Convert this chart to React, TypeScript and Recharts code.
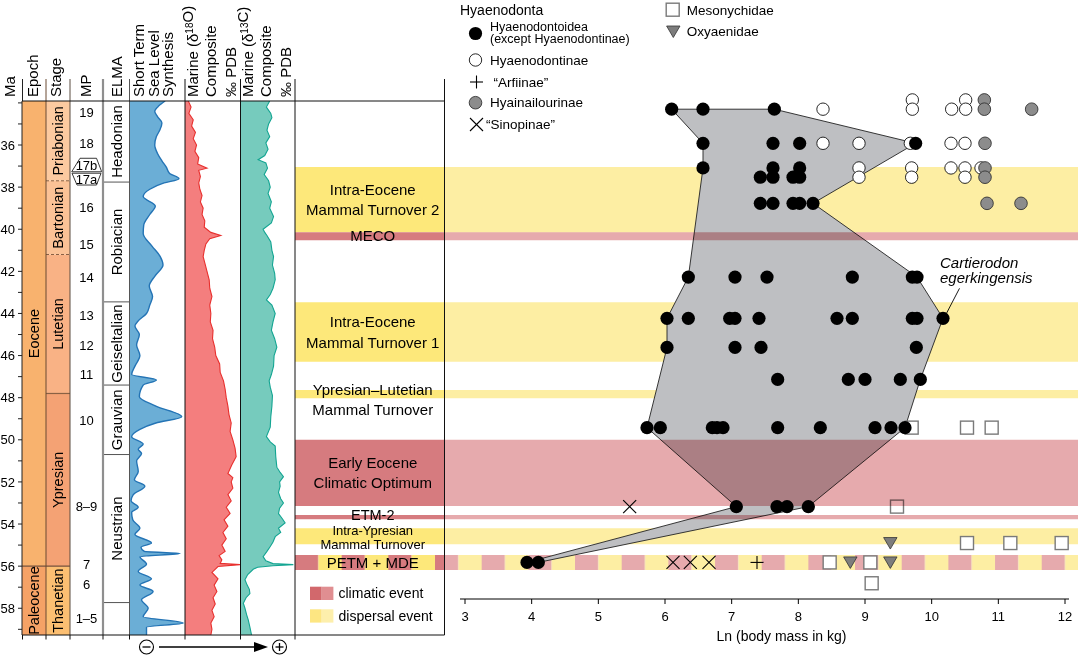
import React from "react";
import {
  Area,
  ComposedChart,
  ReferenceArea,
  ReferenceDot,
  ReferenceLine,
  Scatter,
  XAxis,
  YAxis,
} from "recharts";

const W = 1081;
const H = 661;
const FONT = '"Liberation Sans", Arial, Helvetica, sans-serif';

type Pt = [number, number];

// age windows (Ma, top -> bottom) of the left columns and of the body-mass panel
const COL_AGE: [number, number] = [33.91, 59.27];
const PLOT_AGE: [number, number] = [32.914, 57.557];
const LN_RANGE: [number, number] = [2.7, 12.195];
const LN_TICKS = [3, 4, 5, 6, 7, 8, 9, 10, 11, 12];
const MA_TICKS = [34, 35, 36, 37, 38, 39, 40, 41, 42, 43, 44, 45, 46, 47, 48, 49, 50, 51, 52, 53, 54, 55, 56, 57, 58, 59];

const epochs = [
  { name: "Eocene", top: 33.91, base: 56.0 },
  { name: "Paleocene", top: 56.0, base: 59.27 },
];
const stages = [
  { name: "Priabonian", top: 33.91, base: 37.7 },
  { name: "Bartonian", top: 37.7, base: 41.2 },
  { name: "Lutetian", top: 41.2, base: 47.8 },
  { name: "Ypresian", top: 47.8, base: 56.0 },
  { name: "Thanetian", top: 56.0, base: 59.27 },
];
const elma = [
  { name: "Headonian", top: 33.91, base: 37.76 },
  { name: "Robiacian", top: 37.76, base: 43.45 },
  { name: "Geiseltalian", top: 43.45, base: 47.4 },
  { name: "Grauvian", top: 47.4, base: 50.7 },
  { name: "Neustrian", top: 50.7, base: 57.73 },
];
const mpLevels = [
  { name: "19", ma: 34.47 },
  { name: "18", ma: 35.92 },
  { name: "16", ma: 38.96 },
  { name: "15", ma: 40.7 },
  { name: "14", ma: 42.3 },
  { name: "13", ma: 44.07 },
  { name: "12", ma: 45.5 },
  { name: "11", ma: 46.87 },
  { name: "10", ma: 49.06 },
  { name: "8–9", ma: 53.14 },
  { name: "7", ma: 55.9 },
  { name: "6", ma: 56.89 },
  { name: "1–5", ma: 58.47 },
];
const mpBoxes = [
  { name: "17b", top: 36.63, base: 37.27 },
  { name: "17a", top: 37.34, base: 37.9 },
];

// relative units, 0 = left edge of the column
const seaLevel: Pt[] = [
  [33.91, 64], [34.15, 52], [34.4, 45], [34.65, 50], [34.95, 58], [35.3, 54], [35.6, 48], [36.0, 45],
  [36.4, 50], [36.75, 58], [37.05, 66], [37.35, 72], [37.6, 89], [37.8, 62], [38.1, 36], [38.45, 24],
  [38.9, 46], [39.3, 36], [39.8, 25], [40.2, 24], [40.8, 40], [41.3, 55], [41.7, 60], [42.2, 46],
  [42.7, 35], [43.2, 41], [43.6, 36], [44.0, 30], [44.35, 15], [44.6, 9], [45.0, 17], [45.5, 12],
  [46.0, 18], [46.5, 9], [46.9, 3], [47.16, 48], [47.4, 24], [47.95, 17], [48.4, 47], [48.9, 94],
  [49.2, 47], [49.5, 18], [49.85, 3], [50.2, 24], [50.45, 15], [50.65, 21], [51.0, 12], [51.5, 15],
  [51.9, 8], [52.2, 27], [52.6, 6], [52.9, 2], [53.2, 15], [53.45, 3], [53.8, 5], [54.2, 18],
  [54.5, 9], [54.9, 39], [55.1, 20], [55.3, 26], [55.4, 91], [55.55, 18], [55.9, 30], [56.25, 15],
  [56.6, 39], [56.9, 18], [57.2, 42], [57.6, 21], [58.0, 33], [58.4, 24], [58.7, 97], [58.9, 30],
  [59.27, 30],
];
const d18O: Pt[] = [
  [33.91, 6], [34.2, 11], [34.5, 7], [34.8, 15], [35.1, 12], [35.4, 19], [35.7, 15], [36.0, 21],
  [36.3, 18], [36.6, 25], [36.9, 23], [37.1, 40], [37.2, 25], [37.5, 28], [37.8, 25], [38.1, 27],
  [38.4, 31], [38.7, 28], [39.0, 33], [39.3, 31], [39.6, 36], [39.9, 35], [40.15, 47], [40.3, 65],
  [40.45, 45], [40.7, 38], [41.0, 35], [41.3, 33], [41.6, 36], [42.0, 40], [42.4, 44], [42.8, 45],
  [43.2, 49], [43.6, 45], [44.0, 47], [44.4, 46], [44.8, 51], [45.2, 50], [45.6, 54], [46.0, 56],
  [46.4, 63], [46.8, 64], [47.2, 70], [47.6, 73], [48.0, 75], [48.4, 78], [48.8, 80], [49.2, 84],
  [49.6, 82], [50.0, 87], [50.4, 91], [50.8, 93], [51.2, 85], [51.6, 78], [51.8, 87], [52.0, 84],
  [52.3, 87], [52.6, 78], [52.9, 84], [53.2, 75], [53.5, 82], [53.8, 71], [54.1, 78], [54.4, 69],
  [54.7, 75], [55.0, 67], [55.3, 73], [55.5, 62], [55.7, 67], [55.87, 64], [55.93, 100], [56.02, 60],
  [56.3, 49], [56.6, 60], [56.9, 53], [57.2, 58], [57.5, 51], [57.8, 55], [58.1, 49], [58.4, 53],
  [58.7, 47], [59.0, 49], [59.27, 47],
];
const d13C: Pt[] = [
  [33.91, 54], [34.2, 48], [34.5, 56], [34.7, 58], [35.0, 52], [35.3, 49], [35.6, 54], [35.9, 47],
  [36.2, 51], [36.5, 45], [36.7, 33], [36.85, 47], [37.1, 50], [37.4, 44], [37.7, 52], [38.0, 55],
  [38.3, 51], [38.7, 57], [39.0, 54], [39.4, 61], [39.7, 57], [40.0, 42], [40.15, 45], [40.3, 49],
  [40.6, 56], [41.0, 58], [41.3, 61], [41.7, 59], [42.1, 63], [42.4, 64], [42.8, 60], [43.1, 55],
  [43.36, 48], [43.6, 58], [44.0, 64], [44.4, 60], [44.8, 57], [45.2, 63], [45.6, 67], [46.0, 62],
  [46.5, 61], [46.9, 57], [47.2, 53], [47.5, 55], [47.9, 59], [48.4, 58], [48.9, 56], [49.4, 55],
  [49.85, 48], [50.1, 55], [50.3, 64], [50.8, 65], [51.3, 67], [51.55, 73], [51.75, 79], [52.0, 72],
  [52.2, 73], [52.5, 70], [52.8, 74], [53.0, 79], [53.25, 72], [53.5, 70], [53.75, 77], [53.95, 82],
  [54.2, 70], [54.4, 74], [54.6, 64], [54.85, 60], [55.07, 55], [55.3, 49], [55.55, 42], [55.75, 47],
  [55.88, 60], [55.93, 97], [55.98, 60], [56.05, 32], [56.15, 24], [56.4, 14], [56.65, 9], [56.9, 13],
  [57.1, 17], [57.3, 18], [57.5, 11], [57.76, 6], [58.0, 9], [58.3, 12], [58.55, 15], [58.9, 18],
  [59.27, 21],
];

const dispersalEvents = [
  { lines: ["Intra-Eocene", "Mammal Turnover 2"], top: 37.05, base: 40.14 },
  { lines: ["Intra-Eocene", "Mammal Turnover 1"], top: 43.47, base: 46.29 },
  { lines: ["Ypresian–Lutetian", "Mammal Turnover"], top: 47.63, base: 48.03 },
  { lines: ["Intra-Ypresian", "Mammal Turnover"], top: 54.2, base: 54.96 },
];
const climaticEvents = [
  { lines: ["MECO"], top: 40.14, base: 40.52 },
  { lines: ["Early Eocene", "Climatic Optimum"], top: 50.0, base: 53.14 },
  { lines: ["ETM-2"], top: 53.57, base: 53.77 },
];
const petm = { lines: ["PETM + MDE"], top: 55.47, base: 56.18 };

// [ln body mass (kg), age (Ma)]
const hyaenodontoidea: Pt[] = [
  [6.1, 34.3], [6.57, 34.3], [7.64, 34.3],
  [6.57, 35.92], [7.62, 35.92], [8.02, 35.92], [9.76, 35.92],
  [6.57, 37.09], [7.62, 37.09], [8.02, 37.09],
  [7.43, 37.53], [7.62, 37.53], [7.92, 37.53], [8.02, 37.53],
  [7.43, 38.77], [7.62, 38.77], [7.92, 38.77], [8.02, 38.77], [8.22, 38.77],
  [6.35, 42.27], [7.05, 42.27], [7.53, 42.27], [8.81, 42.27], [9.71, 42.27], [9.78, 42.27],
  [6.03, 44.23], [6.35, 44.23], [6.97, 44.23], [7.05, 44.23], [7.41, 44.23], [8.58, 44.23],
  [8.81, 44.23], [9.71, 44.23], [9.78, 44.23], [10.17, 44.23],
  [6.03, 45.61], [7.05, 45.61], [7.44, 45.61], [9.77, 45.61],
  [7.69, 47.13], [8.75, 47.13], [9.0, 47.13], [9.53, 47.13], [9.83, 47.13],
  [5.73, 49.42], [5.93, 49.42], [6.71, 49.42], [6.78, 49.42], [6.87, 49.42], [7.69, 49.42],
  [8.33, 49.42], [9.15, 49.42], [9.39, 49.42], [9.6, 49.42],
  [7.07, 53.17], [7.68, 53.17], [7.83, 53.17], [8.15, 53.17],
  [3.93, 55.82], [4.1, 55.82],
];
const hyaenodontinae: Pt[] = [
  [9.71, 33.86], [10.51, 33.86],
  [8.37, 34.3], [9.71, 34.3], [10.3, 34.3], [10.51, 34.3],
  [8.37, 35.92], [8.91, 35.92], [9.68, 35.92], [10.29, 35.92], [10.5, 35.92],
  [8.91, 37.09], [9.7, 37.09], [10.29, 37.09], [10.5, 37.09], [10.74, 37.09],
  [8.91, 37.53], [9.7, 37.53], [10.5, 37.53],
];
const hyainailourinae: Pt[] = [
  [10.79, 33.86], [10.79, 34.3], [11.5, 34.3], [10.8, 35.92], [10.8, 37.09], [10.8, 37.53],
  [10.83, 38.77], [11.34, 38.77],
];
const arfiinae: Pt[] = [[7.38, 55.82]];
const sinopinae: Pt[] = [[5.47, 53.17], [6.12, 55.82], [6.38, 55.82], [6.66, 55.82]];
const mesonychidae: Pt[] = [
  [9.7, 49.42], [10.53, 49.42], [10.9, 49.42], [9.48, 53.17],
  [10.53, 54.9], [11.18, 54.9], [11.95, 54.9], [8.47, 55.82], [9.08, 55.82], [9.1, 56.81],
];
const oxyaenidae: Pt[] = [[9.38, 54.9], [8.78, 55.82], [9.38, 55.82]];

// outline of the Hyaenodontoidea morphospace, clockwise
const hull: Pt[] = [
  [6.1, 34.3], [7.64, 34.3], [9.76, 35.92], [8.22, 38.77], [9.78, 42.27], [10.17, 44.23],
  [9.83, 47.13], [9.6, 49.42], [8.15, 53.17], [4.1, 55.82], [3.93, 55.82], [7.07, 53.17],
  [5.73, 49.42], [6.03, 45.61], [6.03, 44.23], [6.35, 42.27], [6.57, 37.09], [6.57, 35.92],
];
const cartierodon: Pt = [10.17, 44.23];

const COLORS: Record<string, string> = {
  Eocene: "#f8b26e",
  Paleocene: "#f5a266",
  Priabonian: "#fccaa0",
  Bartonian: "#fbc296",
  Lutetian: "#f9b285",
  Ypresian: "#f4a274",
  Thanetian: "#fcbf72",
};
const YEL_DARK = "#fde87a";
const YEL_LIGHT = "#fdeea3";
const RED_DARK = "#d67b7f";
const RED_LIGHT = "#e6aaad";
const BROWN = "#8a6144";

const toXY = (pts: Pt[]) => pts.map(([x, y]) => ({ x, y }));
const toRows = (pts: Pt[]) => pts.map(([ma, v]) => ({ ma, v }));

type SP = { cx?: number; cy?: number };
const BlackDot = ({ cx = 0, cy = 0 }: SP) => <circle cx={cx} cy={cy} r={6.6} fill="#000" />;
const WhiteDot = ({ cx = 0, cy = 0 }: SP) => (
  <circle cx={cx} cy={cy} r={6.2} fill="#fff" stroke="#111" strokeWidth={0.9} />
);
const GrayDot = ({ cx = 0, cy = 0 }: SP) => (
  <circle cx={cx} cy={cy} r={6.3} fill="#8c8c8c" stroke="#333" strokeWidth={0.9} />
);
const PlusMark = ({ cx = 0, cy = 0 }: SP) => (
  <g stroke="#000" strokeWidth={1.1}>
    <line x1={cx - 6.5} y1={cy} x2={cx + 6.5} y2={cy} />
    <line x1={cx} y1={cy - 6.5} x2={cx} y2={cy + 6.5} />
  </g>
);
const CrossMark = ({ cx = 0, cy = 0 }: SP) => (
  <g stroke="#000" strokeWidth={1.1}>
    <line x1={cx - 6.5} y1={cy - 6.5} x2={cx + 6.5} y2={cy + 6.5} />
    <line x1={cx - 6.5} y1={cy + 6.5} x2={cx + 6.5} y2={cy - 6.5} />
  </g>
);
const SquareMark = ({ cx = 0, cy = 0 }: SP) => (
  <rect x={cx - 6.5} y={cy - 6.5} width={13} height={13} fill="#fff" stroke="#7a7a7a" strokeWidth={1.4} />
);
const TriMark = ({ cx = 0, cy = 0 }: SP) => (
  <polygon
    points={`${cx - 6.7},${cy - 5.5} ${cx + 6.7},${cy - 5.5} ${cx},${cy + 6}`}
    fill="#7d7d7d"
    stroke="#333"
    strokeWidth={0.8}
  />
);

function BandText({
  vb,
  lines,
  gap = 20.5,
  dy = 0,
  size = 15,
}: {
  vb: any;
  lines: string[];
  gap?: number;
  dy?: number;
  size?: number;
}) {
  const cx = vb.x + vb.width / 2 + 3;
  const cy = vb.y + vb.height / 2 + dy;
  return (
    <text textAnchor="middle" fontSize={size} fill="#000">
      {lines.map((l, i) => (
        <tspan key={l} x={cx} y={cy + (i - (lines.length - 1) / 2) * gap} dy="0.35em">
          {l}
        </tspan>
      ))}
    </text>
  );
}

// one stratigraphic column; vertical layout puts the youngest age at the top
function Strip({
  left,
  right,
  data,
  axis = false,
  children,
}: {
  left: number;
  right: number;
  data?: any[];
  axis?: boolean;
  children?: React.ReactNode;
}) {
  return (
    <div style={{ position: "absolute", left: 0, top: 0 }}>
      <ComposedChart
        width={W}
        height={H}
        layout="vertical"
        data={data}
        margin={{ top: 101, bottom: H - 635, left: axis ? left - 22 : left, right: W - right }}
      >
        <XAxis type="number" domain={[0, 100]} hide allowDataOverflow />
        <YAxis
          type="number"
          dataKey="ma"
          domain={COL_AGE}
          allowDataOverflow
          hide={!axis}
          width={22}
          ticks={MA_TICKS}
          interval={0}
          tickSize={4}
          tickMargin={3}
          tickFormatter={(v: number) => (v >= 36 && v % 2 === 0 ? String(v) : "")}
          axisLine={{ stroke: "#222" }}
          tickLine={{ stroke: "#222" }}
          tick={{ fill: "#000", fontSize: 13 }}
        />
        {children}
      </ComposedChart>
    </div>
  );
}

const mpBoxShape = (name: string, narrowTop: boolean) => (p: any) => {
  const { x, y, width: w, height: h } = p;
  const pts = narrowTop
    ? [[x + 10, y], [x + w - 6.5, y], [x + w - 1.3, y + h], [x + 1.7, y + h]]
    : [[x + 2, y], [x + w - 2, y], [x + w - 6.5, y + h], [x + 7, y + h]];
  return (
    <g>
      <polygon points={pts.map((q) => q.join(",")).join(" ")} fill="#fff" stroke="#222" strokeWidth={0.9} />
      <text x={x + w / 2} y={y + h / 2} dy="0.36em" textAnchor="middle" fontSize={13} fill="#000">
        {name}
      </text>
    </g>
  );
};

// per-label tweaks for the event box: [size, line gap, vertical shift]
const bandLabelStyle = (name: string): [number, number, number] => {
  if (name === "Intra-Ypresian") return [13, 14.5, 1];
  if (name === "Ypresian–Lutetian") return [15, 20.6, 5.5];
  if (name === "ETM-2") return [14.5, 20.6, -2.5];
  return [15, 20.6, 0];
};

function LeftColumns() {
  return (
    <>
      <Strip left={22} right={46} axis>
        {epochs.map((e) => (
          <ReferenceArea
            key={e.name}
            y1={e.top}
            y2={e.base}
            fill={COLORS[e.name]}
            fillOpacity={1}
            ifOverflow="visible"
            label={{ value: e.name, position: "center", angle: -90, fontSize: 14.5, fill: "#000" }}
          />
        ))}
        <ReferenceLine y={56.0} stroke={BROWN} strokeWidth={1.5} />
      </Strip>
      <Strip left={46} right={70}>
        {stages.map((s) => (
          <ReferenceArea
            key={s.name}
            y1={s.top}
            y2={s.base}
            fill={COLORS[s.name]}
            fillOpacity={1}
            ifOverflow="visible"
            label={{ value: s.name, position: "center", angle: -90, fontSize: 14.5, fill: "#000" }}
          />
        ))}
        <ReferenceLine y={37.7} stroke={BROWN} strokeDasharray="3 2" />
        <ReferenceLine y={41.2} stroke={BROWN} strokeDasharray="3 2" />
        <ReferenceLine y={47.8} stroke={BROWN} strokeWidth={1.2} />
        <ReferenceLine y={56.0} stroke={BROWN} strokeWidth={1.5} />
      </Strip>
      <Strip left={70} right={103}>
        {mpLevels.map((m) => (
          <ReferenceLine
            key={m.name}
            y={m.ma}
            strokeOpacity={0}
            label={{ value: m.name, position: "center", fontSize: 13, fill: "#000" }}
          />
        ))}
        {mpBoxes.map((b, i) => (
          <ReferenceArea key={b.name} y1={b.top} y2={b.base} ifOverflow="visible" shape={mpBoxShape(b.name, i === 0)} />
        ))}
      </Strip>
      <Strip left={103} right={130}>
        {elma.map((e) => (
          <ReferenceArea
            key={e.name}
            y1={e.top}
            y2={e.base}
            fillOpacity={0}
            ifOverflow="visible"
            label={{ value: e.name, position: "center", angle: -90, fontSize: 15, fill: "#000" }}
          />
        ))}
        {elma.slice(1).map((e) => (
          <ReferenceLine key={e.name} y={e.top} stroke="#555" />
        ))}
        <ReferenceLine y={57.73} stroke="#555" />
      </Strip>
      <Strip left={130} right={185} data={toRows(seaLevel)}>
        <Area dataKey="v" type="monotone" baseValue={0} fill="#6baed6" fillOpacity={1} stroke="#2474b5" strokeWidth={1.4} isAnimationActive={false} />
      </Strip>
      <Strip left={185} right={240} data={toRows(d18O)}>
        <Area dataKey="v" type="linear" baseValue={0} fill="#f47e7e" fillOpacity={1} stroke="#e8302e" strokeWidth={1.1} isAnimationActive={false} />
      </Strip>
      <Strip left={240} right={295} data={toRows(d13C)}>
        <Area dataKey="v" type="linear" baseValue={0} fill="#76cbbd" fillOpacity={1} stroke="#13a592" strokeWidth={1.1} isAnimationActive={false} />
      </Strip>
      <Strip left={295} right={444.5}>
        {dispersalEvents.map((e) => {
          const [size, gap, dy] = bandLabelStyle(e.lines[0]);
          return (
            <ReferenceArea
              key={e.lines.join()}
              y1={e.top}
              y2={e.base}
              fill={YEL_DARK}
              fillOpacity={1}
              ifOverflow="visible"
              label={(p: any) => <BandText vb={p.viewBox} lines={e.lines} gap={gap} size={size} dy={dy} />}
            />
          );
        })}
        {climaticEvents.map((e) => {
          const [size, gap, dy] = bandLabelStyle(e.lines[0]);
          return (
            <ReferenceArea
              key={e.lines.join()}
              y1={e.top}
              y2={e.base}
              fill={RED_DARK}
              fillOpacity={1}
              ifOverflow="visible"
              label={(p: any) => <BandText vb={p.viewBox} lines={e.lines} gap={gap} size={size} dy={dy} />}
            />
          );
        })}
        <ReferenceArea
          y1={petm.top}
          y2={petm.base}
          fill="url(#petmDark)"
          fillOpacity={1}
          ifOverflow="visible"
          label={(p: any) => <BandText vb={p.viewBox} lines={petm.lines} />}
        />
      </Strip>
    </>
  );
}

const hullShape = (props: any) => {
  const pts = (props.points || []) as { x: number; y: number }[];
  return <polygon points={pts.map((q) => `${q.x},${q.y}`).join(" ")} fill="#bebfc2" stroke="#222" strokeWidth={0.9} />;
};

function BodyMassPanel() {
  return (
    <div style={{ position: "absolute", left: 0, top: 0 }}>
      <ComposedChart width={W} height={H} margin={{ top: 80, bottom: 22, left: 445, right: 3 }}>
        <XAxis
          type="number"
          dataKey="x"
          domain={LN_RANGE}
          ticks={LN_TICKS}
          interval={0}
          allowDataOverflow
          axisLine={false}
          tickSize={5}
          tickMargin={8}
          height={40}
          tickLine={{ stroke: "#000" }}
          tick={{ fill: "#000", fontSize: 13 }}
          label={(p: any) => (
            <text x={p.viewBox.x + p.viewBox.width / 2 + 20} y={p.viewBox.y + 42} textAnchor="middle" fontSize={14} fill="#000">
              Ln (body mass in kg)
            </text>
          )}
        />
        <YAxis type="number" dataKey="y" domain={PLOT_AGE} reversed hide allowDataOverflow />
        {dispersalEvents.map((e) => (
          <ReferenceArea key={e.lines.join()} y1={e.top} y2={e.base} fill={YEL_LIGHT} fillOpacity={1} />
        ))}
        <ReferenceArea y1={petm.top} y2={petm.base} fill="url(#petmLight)" fillOpacity={1} />
        <ReferenceLine
          segment={[
            { x: 2.925, y: PLOT_AGE[1] },
            { x: 12.06, y: PLOT_AGE[1] },
          ]}
          stroke="#000"
          ifOverflow="visible"
        />
        <Scatter data={toXY(hull)} shape={() => <g />} line={hullShape} isAnimationActive={false} />
        <Scatter data={toXY(mesonychidae)} shape={(p: any) => <SquareMark cx={p.cx} cy={p.cy} />} isAnimationActive={false} />
        <Scatter data={toXY(oxyaenidae)} shape={(p: any) => <TriMark cx={p.cx} cy={p.cy} />} isAnimationActive={false} />
        <Scatter data={toXY(hyaenodontinae)} shape={(p: any) => <WhiteDot cx={p.cx} cy={p.cy} />} isAnimationActive={false} />
        <Scatter data={toXY(hyainailourinae)} shape={(p: any) => <GrayDot cx={p.cx} cy={p.cy} />} isAnimationActive={false} />
        <Scatter data={toXY(hyaenodontoidea)} shape={(p: any) => <BlackDot cx={p.cx} cy={p.cy} />} isAnimationActive={false} />
        <Scatter data={toXY(sinopinae)} shape={(p: any) => <CrossMark cx={p.cx} cy={p.cy} />} isAnimationActive={false} />
        <Scatter data={toXY(arfiinae)} shape={(p: any) => <PlusMark cx={p.cx} cy={p.cy} />} isAnimationActive={false} />
        <ReferenceDot
          x={cartierodon[0]}
          y={cartierodon[1]}
          r={0}
          ifOverflow="visible"
          shape={(p: any) => (
            <g>
              <line x1={p.cx + 3.5} y1={p.cy - 5} x2={p.cx + 16.5} y2={p.cy - 30} stroke="#000" strokeWidth={0.9} />
              <text x={p.cx - 3} y={p.cy - 50} fontSize={15} fontStyle="italic" fill="#000">
                Cartierodon
              </text>
              <text x={p.cx - 3} y={p.cy - 35} fontSize={15} fontStyle="italic" fill="#000">
                egerkingensis
              </text>
            </g>
          )}
        />
      </ComposedChart>
    </div>
  );
}

// light red climatic bands multiplied over the hull
function ClimaticOverlay() {
  return (
    <div style={{ position: "absolute", left: 0, top: 0, mixBlendMode: "multiply" }}>
      <ComposedChart width={W} height={H} margin={{ top: 80, bottom: 62, left: 445, right: 3 }}>
        <XAxis type="number" dataKey="x" domain={LN_RANGE} hide allowDataOverflow />
        <YAxis type="number" dataKey="y" domain={PLOT_AGE} reversed hide allowDataOverflow />
        {climaticEvents.map((e) => (
          <ReferenceArea key={e.lines.join()} y1={e.top} y2={e.base} fill={RED_LIGHT} fillOpacity={1} />
        ))}
      </ComposedChart>
    </div>
  );
}

function Rot({ x, y, size = 15, children }: { x: number; y: number; size?: number; children: React.ReactNode }) {
  return (
    <text transform={`translate(${x},${y}) rotate(-90)`} fontSize={size} fill="#000">
      {children}
    </text>
  );
}

function Frame() {
  const cols = [
    { x: 22.5, c: "#222", w: 1 },
    { x: 46, c: "#6b4a33", w: 1 },
    { x: 70, c: "#5a4c40", w: 1 },
    { x: 103, c: "#8f8f8f", w: 2.2 },
    { x: 129.5, c: "#555", w: 1 },
    { x: 185, c: "#111", w: 1 },
    { x: 240.5, c: "#111", w: 1 },
    { x: 295, c: "#111", w: 1 },
  ];
  const sup = (s: string) => (
    <>
      <tspan dy={-5} fontSize={10}>
        {s}
      </tspan>
      <tspan dy={5}></tspan>
    </>
  );
  return (
    <svg width={W} height={H} style={{ position: "absolute", left: 0, top: 0, pointerEvents: "none" }}>
      <defs>
        <pattern id="petmDark" patternUnits="userSpaceOnUse" x={295} y={0} width={46.67} height={H}>
          <rect x={0} y={0} width={23.34} height={H} fill={RED_DARK} />
          <rect x={23.34} y={0} width={23.34} height={H} fill={YEL_DARK} />
        </pattern>
        <pattern id="petmLight" patternUnits="userSpaceOnUse" x={295} y={0} width={46.67} height={H}>
          <rect x={0} y={0} width={23.34} height={H} fill={RED_LIGHT} />
          <rect x={23.34} y={0} width={23.34} height={H} fill={YEL_LIGHT} />
        </pattern>
      </defs>

      {/* column frame */}
      <line x1={22.5} y1={79} x2={22.5} y2={101} stroke="#222" />
      {cols.slice(1).map((c) => (
        <line key={c.x} x1={c.x} y1={79} x2={c.x} y2={635} stroke={c.c} strokeWidth={c.w} />
      ))}
      <line x1={444.5} y1={79} x2={444.5} y2={635} stroke="#111" />
      <line x1={22} y1={101} x2={444.5} y2={101} stroke="#111" />
      <line x1={22} y1={635} x2={444.5} y2={635} stroke="#111" />
      {cols.map((c) => (
        <line key={`t${c.x}`} x1={c.x} y1={635} x2={c.x} y2={639.5} stroke="#111" />
      ))}

      {/* headers */}
      <Rot x={15} y={97}>Ma</Rot>
      <Rot x={37.5} y={97}>Epoch</Rot>
      <Rot x={61} y={97}>Stage</Rot>
      <Rot x={91} y={97}>MP</Rot>
      <Rot x={121.5} y={97}>ELMA</Rot>
      <Rot x={144} y={97}>Short Term</Rot>
      <Rot x={158.5} y={97}>Sea Level</Rot>
      <Rot x={173} y={97}>Synthesis</Rot>
      <Rot x={198} y={97}>
        Marine (δ{sup("18")}O)
      </Rot>
      <Rot x={216} y={97}>Composite</Rot>
      <Rot x={236} y={97}>‰ PDB</Rot>
      <Rot x={253} y={97}>
        Marine (δ{sup("13")}C)
      </Rot>
      <Rot x={271} y={97}>Composite</Rot>
      <Rot x={290.5} y={97}>‰ PDB</Rot>

      {/* direction arrow under the curves */}
      <circle cx={146.5} cy={647} r={7} fill="#fff" stroke="#000" strokeWidth={1.1} />
      <line x1={142.5} y1={647} x2={150.5} y2={647} stroke="#000" strokeWidth={1.3} />
      <line x1={159} y1={647} x2={257} y2={647} stroke="#000" strokeWidth={1.6} />
      <polygon points="254,642 268,647 254,652" fill="#000" />
      <circle cx={279.5} cy={647} r={7} fill="#fff" stroke="#000" strokeWidth={1.1} />
      <line x1={275.5} y1={647} x2={283.5} y2={647} stroke="#000" strokeWidth={1.3} />
      <line x1={279.5} y1={643} x2={279.5} y2={651} stroke="#000" strokeWidth={1.3} />

      {/* event legend */}
      <rect x={310} y={586.7} width={11.7} height={13.3} fill="#d2686c" />
      <rect x={321.7} y={586.7} width={11.7} height={13.3} fill="#e08e91" />
      <text x={338.5} y={598} fontSize={14} fill="#000">
        climatic event
      </text>
      <rect x={310} y={609.3} width={11.7} height={13.3} fill="#fde682" />
      <rect x={321.7} y={609.3} width={11.7} height={13.3} fill="#fdefac" />
      <text x={338.5} y={620.5} fontSize={14} fill="#000">
        dispersal event
      </text>

      {/* taxon legend */}
      <g fontSize={13.5} fill="#000">
        <text x={460} y={15} fontSize={14}>
          Hyaenodonta
        </text>
        <BlackDot cx={475.5} cy={33.5} />
        <text x={490} y={30.5} fontSize={12.5}>
          Hyaenodontoidea
        </text>
        <text x={490} y={43} fontSize={12.5}>
          (except Hyaenodontinae)
        </text>
        <WhiteDot cx={475.5} cy={60} />
        <text x={490} y={64.5}>Hyaenodontinae</text>
        <PlusMark cx={476.5} cy={82} />
        <text x={493.5} y={86.5}>“Arfiinae”</text>
        <GrayDot cx={475.5} cy={102.7} />
        <text x={490} y={107}>Hyainailourinae</text>
        <CrossMark cx={476.5} cy={124.5} />
        <text x={486} y={129}>“Sinopinae”</text>
        <SquareMark cx={672.7} cy={9.7} />
        <text x={686.7} y={15}>Mesonychidae</text>
        <TriMark cx={673.3} cy={31.5} />
        <text x={686.7} y={36}>Oxyaenidae</text>
      </g>
    </svg>
  );
}

export default function App() {
  return (
    <div
      style={{
        position: "absolute",
        left: 0,
        top: 0,
        width: W,
        height: H,
        background: "#fff",
        fontFamily: FONT,
        overflow: "hidden",
      }}
    >
      <LeftColumns />
      <BodyMassPanel />
      <ClimaticOverlay />
      <Frame />
    </div>
  );
}
